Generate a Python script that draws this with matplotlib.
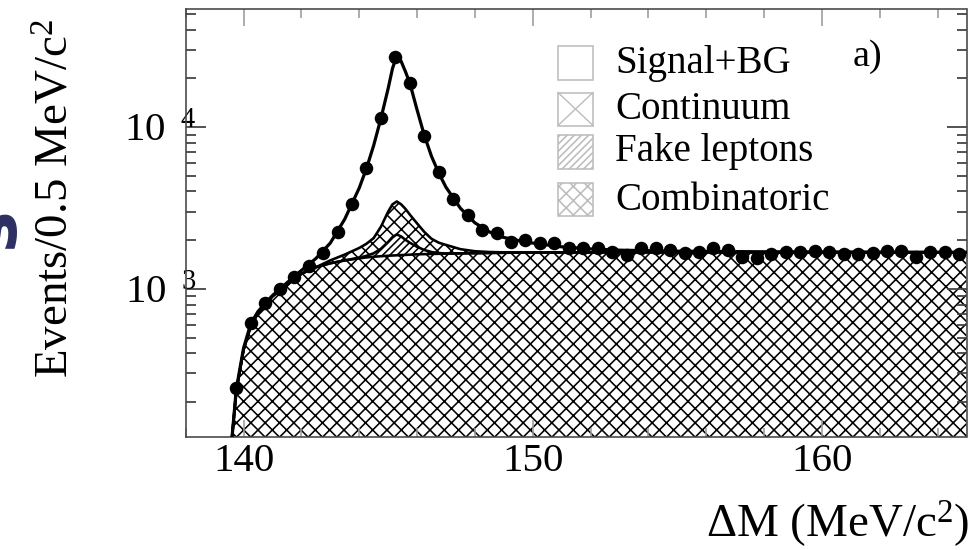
import numpy as np
import matplotlib
matplotlib.use("Agg")
import matplotlib.pyplot as plt
from matplotlib.patches import Rectangle
from matplotlib.lines import Line2D
from matplotlib.ticker import MultipleLocator, LogLocator, NullFormatter, FixedLocator, FixedFormatter

# ---------------- data ----------------
data_x = [139.75, 140.25, 140.75, 141.25, 141.75, 142.25, 142.75, 143.25, 143.75, 144.25,
          144.75, 145.25, 145.75, 146.25, 146.75, 147.25, 147.75, 148.25, 148.75, 149.25,
          149.75, 150.25, 150.75, 151.25, 151.75, 152.25, 152.75, 153.25, 153.75, 154.25,
          154.75, 155.25, 155.75, 156.25, 156.75, 157.25, 157.75, 158.25, 158.75, 159.25,
          159.75, 160.25, 160.75, 161.25, 161.75, 162.25, 162.75, 163.25, 163.75, 164.25,
          164.75]
data_y = [244, 614, 816, 995, 1191, 1393, 1676, 2259, 3350, 5610,
          11430, 27170, 18790, 8790, 5250, 3593, 2864, 2313, 2228, 1957,
          2005, 1932, 1932, 1782, 1782, 1782, 1698, 1621, 1800, 1800,
          1741, 1660, 1698, 1800, 1741, 1582, 1548, 1637, 1686, 1686,
          1723, 1686, 1637, 1637, 1660, 1723, 1723, 1582, 1686, 1698,
          1644]

fit_x = [139.6, 139.75, 140.0, 140.25, 140.5, 140.75, 141.0, 141.5, 142.0, 142.5,
         143.0, 143.5, 144.0, 144.25, 144.5, 144.75, 145.0, 145.15, 145.3, 145.45,
         145.6, 145.75, 146.0, 146.25, 146.5, 146.75, 147.0, 147.5, 148.0, 148.5,
         149.0, 149.5, 150.0, 151.0, 152.0, 153.0, 155.0, 158.0, 161.0, 165.0]
combinatoric = [120, 235, 420, 590, 710, 800, 900, 1060, 1240, 1360,
                1440, 1500, 1545, 1565, 1580, 1592, 1602, 1608, 1613, 1618,
                1622, 1627, 1635, 1640, 1644, 1648, 1651, 1657, 1663, 1668,
                1672, 1675, 1678, 1681, 1683, 1684, 1685, 1685, 1684, 1682]
fake_leptons = [0, 0, 0, 0, 0, 0, 0, 0, 0, 0,
                0, 0, 15, 35, 80, 178, 348, 482, 557, 492,
                388, 303, 185, 100, 46, 17, 5, 2, 0, 0,
                0, 0, 0, 0, 0, 0, 0, 0, 0, 0]
continuum = [0, 0, 0, 0, 0, 0, 0, 0, 0, 0,
             60, 130, 230, 300, 400, 650, 1050, 1240, 1300, 1220,
             1110, 950, 720, 510, 350, 265, 214, 101, 46, 22,
             10, 5, 2, 0, 0, 0, 0, 0, 0, 0]
signal_bg = [120, 240, 430, 610, 725, 815, 910, 1090, 1300, 1540,
             1920, 2700, 4200, 5550, 7700, 11300, 17300, 23000, 27800, 25500,
             22000, 18700, 12800, 8900, 6600, 5200, 4250, 3150, 2560, 2250,
             2080, 1990, 1920, 1820, 1765, 1735, 1710, 1695, 1690, 1685]

legend_labels = ["Signal+BG", "Continuum", "Fake leptons", "Combinatoric"]
ytick_vals = [1e3, 1e4]
ytick_labels = [r"$10^{\hspace{0.75}3}$", r"$10^{\hspace{0.75}4}$"]
xtick_vals = [140, 150, 160]

# ---------------- style ----------------
DPI = 86
W, H = 973, 550
def pt(px):
    return px * 72.0 / DPI

plt.rcParams['font.family'] = ['Liberation Serif', 'DejaVu Serif']
plt.rcParams['mathtext.fontset'] = 'custom'
plt.rcParams['mathtext.rm'] = 'Liberation Serif'
plt.rcParams['mathtext.it'] = 'Liberation Serif:italic'
plt.rcParams['mathtext.bf'] = 'Liberation Serif:bold'
plt.rcParams['hatch.linewidth'] = pt(1.6)

fig = plt.figure(figsize=(W / DPI, H / DPI), dpi=DPI)
fig.patch.set_facecolor('white')
L, R, T, B = 185.7, 966.5, 9.0, 436.7
ax = fig.add_axes([L / W, 1 - B / H, (R - L) / W, (B - T) / H])

fx = np.array(fit_x)
comb = np.array(combinatoric, float)
fake_top = comb + np.array(fake_leptons, float)
cont_top = fake_top + np.array(continuum, float)
tot = np.array(signal_bg, float)

ax.set_yscale('log')
ax.set_xlim(138, 165)
ax.set_ylim(122, 53700)

ax.fill_between(fx, 1, comb, facecolor='white', edgecolor='black', hatch='xx', linewidth=0, zorder=1)
ax.fill_between(fx, comb, fake_top, facecolor='white', edgecolor='black', hatch='////', linewidth=0, zorder=1)
ax.fill_between(fx, fake_top, cont_top, facecolor='white', edgecolor='black', hatch='xx', linewidth=0, zorder=1)

lw_c = pt(2.6)
ax.plot(fx, comb, color='black', lw=lw_c, zorder=2)
ax.plot(fx, fake_top, color='black', lw=lw_c, zorder=2)
ax.plot(fx, cont_top, color='black', lw=lw_c, zorder=2)
ax.plot(fx, tot, color='black', lw=pt(3.2), zorder=3)
ax.plot(data_x, data_y, 'o', color='black', markersize=pt(13.5), markeredgewidth=0, zorder=4)

# ticks
ax.xaxis.set_major_locator(FixedLocator(xtick_vals))
ax.xaxis.set_minor_locator(MultipleLocator(2))
ax.yaxis.set_major_locator(FixedLocator(ytick_vals))
ax.yaxis.set_major_formatter(FixedFormatter(ytick_labels))
ax.yaxis.set_minor_locator(LogLocator(base=10, subs=np.arange(2, 10)))
ax.yaxis.set_minor_formatter(NullFormatter())

tick_fs = pt(41)
ax.tick_params(axis='x', which='both', direction='in', top=True, bottom=True, color='#9a9a9a', width=pt(1.6))
ax.tick_params(axis='x', which='major', length=pt(17), labelsize=tick_fs, pad=pt(6))
ax.tick_params(axis='x', which='minor', length=pt(9))
ax.tick_params(axis='y', which='both', direction='in', left=True, right=True, color='#444444', width=pt(1.8))
ax.tick_params(axis='y', which='major', length=pt(20), labelsize=tick_fs, pad=pt(-11))
ax.tick_params(axis='y', which='minor', length=pt(10))
for s in ax.spines.values():
    s.set_color('#444444')
    s.set_linewidth(pt(1.6))

# axis labels
fig.text(57 / W, 1 - 199 / H, r"Events/0.5 MeV/c$^{2}$", rotation=90, ha='center', va='center', fontsize=pt(47))
fig.text(969 / W, 1 - 524 / H, r"$\Delta$M (MeV/c$^{2}$)", ha='right', va='center', fontsize=pt(47))
fig.text(867 / W, 1 - 57 / H, "a)", ha='center', va='center', fontsize=pt(38))

# stray cropped glyph at the left edge (part of a neighbouring slide title)
fig.text(-6 / W, 1 - 228 / H, "s", rotation=90, ha='center', va='center', fontsize=pt(70),
         color='#2d2f62', fontweight='bold', family='DejaVu Sans')

# legend drawn by hand (pixel coordinates)
box_x0, box_w, box_h = 558, 35, 33
centers = [63, 109, 152, 200]
hatches = [None, None, '////', 'xx']
gray = '#bdbdbd'
for lab, cy, h in zip(legend_labels, centers, hatches):
    x0 = box_x0 / W
    y0 = 1 - (cy + box_h / 2) / H
    rect = Rectangle((x0, y0), box_w / W, box_h / H, transform=fig.transFigure,
                     facecolor='white', edgecolor=gray, linewidth=pt(1.6), hatch=h)
    fig.add_artist(rect)
    if lab == "Continuum":
        xa, xb = box_x0 / W, (box_x0 + box_w) / W
        ya, yb = 1 - (cy + box_h / 2) / H, 1 - (cy - box_h / 2) / H
        fig.add_artist(Line2D([xa, xb], [ya, yb], transform=fig.transFigure, color=gray, lw=pt(1.4)))
        fig.add_artist(Line2D([xa, xb], [yb, ya], transform=fig.transFigure, color=gray, lw=pt(1.4)))
    fig.text(615 / W, 1 - cy / H, lab, ha='left', va='center', fontsize=pt(39))

fig.savefig("out.png", dpi=DPI, facecolor='white')
